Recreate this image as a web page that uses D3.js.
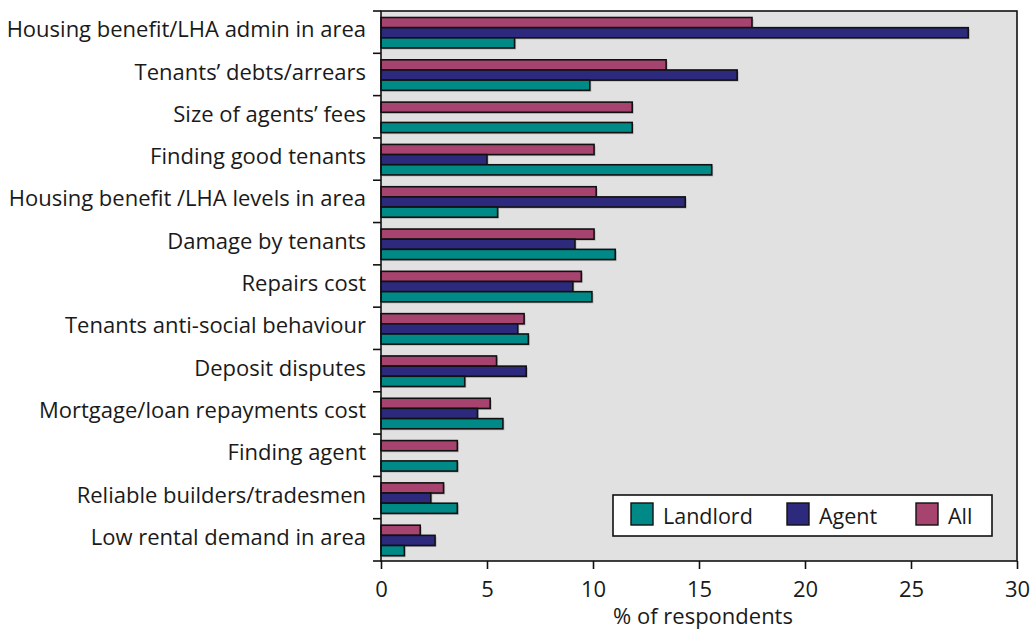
<!DOCTYPE html>
<html lang="en">
<head>
<meta charset="utf-8"/>
<title>Problems faced</title>
<script src="https://d3js.org/d3.v7.min.js"></script>
<style>
  body { margin: 0; background: #fff; }
  text { font-family: "Open Sans", "Noto Sans", sans-serif; fill: #1a1a1a; }
  .bar { stroke: #111; stroke-width: 1.6px; }
  .shadow { fill: #8a8a8a; opacity: 0.5; }
</style>
</head>
<body>
<svg id="chart" width="1036" height="634"></svg>
<script>
// categories, top to bottom
const categories = [
  "Housing benefit/LHA admin in area",
  "Tenants\u2019 debts/arrears",
  "Size of agents\u2019 fees",
  "Finding good tenants",
  "Housing benefit /LHA levels in area",
  "Damage by tenants",
  "Repairs cost",
  "Tenants anti-social behaviour",
  "Deposit disputes",
  "Mortgage/loan repayments cost",
  "Finding agent",
  "Reliable builders/tradesmen",
  "Low rental demand in area"
];
// % of respondents
const landlord = [6.3, 9.85, 11.85, 15.6, 5.5, 11.05, 9.95, 6.95, 3.95, 5.75, 3.6, 3.6, 1.1];
const agent    = [27.7, 16.8, 0, 5.0, 14.35, 9.15, 9.05, 6.45, 6.85, 4.55, 0, 2.35, 2.55];
const all      = [17.5, 13.45, 11.85, 10.05, 10.15, 10.05, 9.45, 6.75, 5.45, 5.15, 3.6, 2.95, 1.85];
const xTicks = [0, 5, 10, 15, 20, 25, 30];

const series = [
  {key: "All", values: all, color: "#a6446f"},
  {key: "Agent", values: agent, color: "#2d2a7e"},
  {key: "Landlord", values: landlord, color: "#008a87"}
];
const legendOrder = ["Landlord", "Agent", "All"];

const svg = d3.select("#chart");
const plotL = 381, plotT = 11, plotR = 1017, plotB = 561;
const fontSize = "22px";

const x = d3.scaleLinear().domain([0, 30]).range([plotL, plotR]);
const y = d3.scaleBand().domain(categories).range([plotT, plotB]);
const ySub = d3.scaleBand().domain(series.map(s => s.key)).range([6.5, 37]);

// plot background
svg.append("rect")
  .attr("x", plotL).attr("y", plotT)
  .attr("width", plotR - plotL).attr("height", plotB - plotT)
  .style("fill", "#e1e1e1");

// bars
const rows = [];
series.forEach(s => {
  s.values.forEach((v, i) => {
    if (v > 0) rows.push({cat: categories[i], key: s.key, value: v, color: s.color});
  });
});

svg.selectAll("rect.shadow").data(rows).enter()
  .append("rect")
  .attr("class", "shadow")
  .attr("x", plotL + 1.5)
  .attr("y", d => y(d.cat) + ySub(d.key) + 1.5)
  .attr("width", d => x(d.value) - plotL)
  .attr("height", ySub.bandwidth());

svg.selectAll("rect.bar").data(rows).enter()
  .append("rect")
  .attr("class", "bar")
  .attr("x", plotL)
  .attr("y", d => y(d.cat) + ySub(d.key))
  .attr("width", d => x(d.value) - plotL)
  .attr("height", ySub.bandwidth())
  .style("fill", d => d.color);

// frame
svg.append("rect")
  .attr("x", plotL).attr("y", plotT)
  .attr("width", plotR - plotL).attr("height", plotB - plotT)
  .style("fill", "none").style("stroke", "#111").style("stroke-width", 1.6);

// x axis
const xAxis = svg.append("g")
  .attr("transform", "translate(0," + plotB + ")")
  .call(d3.axisBottom(x).tickValues(xTicks).tickSize(8).tickPadding(12).tickSizeOuter(0));
xAxis.select(".domain").remove();
xAxis.selectAll("line").style("stroke", "#111").style("stroke-width", 1.6);
xAxis.selectAll("text").style("font-size", fontSize).style("fill", "#1a1a1a")
  .style("font-family", "'Open Sans', sans-serif");

svg.append("text")
  .attr("x", (plotL + plotR) / 2 + 4)
  .attr("y", 624)
  .attr("text-anchor", "middle")
  .style("font-size", fontSize)
  .text("% of respondents");

// y axis: ticks at category boundaries
const bounds = categories.map(c => y(c)).concat([plotB]);
svg.selectAll("line.ytick").data(bounds).enter()
  .append("line")
  .attr("x1", plotL - 8).attr("x2", plotL)
  .attr("y1", d => d).attr("y2", d => d)
  .style("stroke", "#111").style("stroke-width", 1.6);

svg.selectAll("text.ylab").data(categories).enter()
  .append("text")
  .attr("x", 366)
  .attr("y", d => y(d) + y.bandwidth() / 2)
  .attr("dy", "0.23em")
  .attr("text-anchor", "end")
  .style("font-size", fontSize)
  .text(d => d);

// legend
const legend = svg.append("g");
legend.append("rect")
  .attr("x", 613).attr("y", 495)
  .attr("width", 379).attr("height", 41)
  .style("fill", "#fff").style("stroke", "#111").style("stroke-width", 1.6);
const legendX = d3.scaleOrdinal().domain(legendOrder).range([631, 787, 916]);
legendOrder.forEach(k => {
  const s = series.find(d => d.key === k);
  legend.append("rect")
    .attr("x", legendX(k)).attr("y", 503)
    .attr("width", 22).attr("height", 22)
    .style("fill", s.color).style("stroke", "#111").style("stroke-width", 1.4);
  legend.append("text")
    .attr("x", legendX(k) + 32)
    .attr("y", 524)
    .style("font-size", "21.5px")
    .text(k);
});
</script>
</body>
</html>
